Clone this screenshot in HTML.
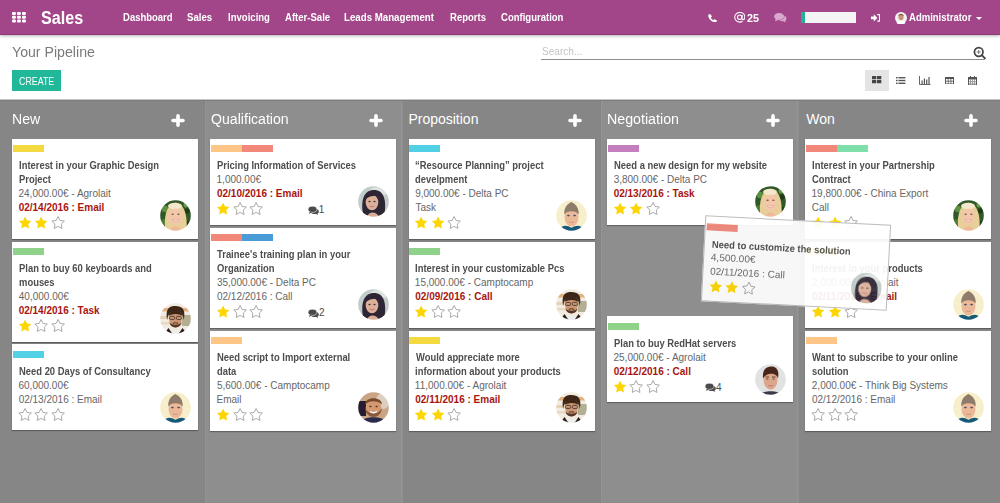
<!DOCTYPE html><html><head><meta charset="utf-8"><style>
*{box-sizing:border-box;margin:0;padding:0}
html,body{width:1000px;height:503px;overflow:hidden;background:#fff;font-family:"Liberation Sans",sans-serif}
.a{position:absolute}
.t{position:absolute;white-space:nowrap}
#nav{position:absolute;left:0;top:0;width:1000px;height:35px;background:#a24689;border-bottom:1px solid #8f3a78;box-shadow:0 1px 3px rgba(0,0,0,.3);z-index:5}
#kb{position:absolute;left:0;top:99px;width:1000px;height:404px;background:#868686;overflow:hidden}
.card{position:absolute;width:186px;background:#fff;box-shadow:0 1px 1px rgba(0,0,0,.3)}
.tag{position:absolute;top:6.5px;width:31px;height:7px}
.drag{transform:rotate(2.95deg);opacity:.93;border:1px solid #b8b8b8;box-shadow:none}
</style></head><body>
<svg width="0" height="0" style="position:absolute"><defs><filter id="soft" x="-5%" y="-5%" width="110%" height="110%"><feGaussianBlur stdDeviation="0.45"/></filter></defs></svg>
<div id="nav">
<svg class="a" style="left:12px;top:11.9px" width="14" height="11"><rect x="0" y="0.0" width="3.9" height="3" rx="1" fill="#fff"/><rect x="5" y="0.0" width="3.9" height="3" rx="1" fill="#fff"/><rect x="10" y="0.0" width="3.9" height="3" rx="1" fill="#fff"/><rect x="0" y="3.75" width="3.9" height="3" rx="1" fill="#fff"/><rect x="5" y="3.75" width="3.9" height="3" rx="1" fill="#fff"/><rect x="10" y="3.75" width="3.9" height="3" rx="1" fill="#fff"/><rect x="0" y="7.5" width="3.9" height="3" rx="1" fill="#fff"/><rect x="5" y="7.5" width="3.9" height="3" rx="1" fill="#fff"/><rect x="10" y="7.5" width="3.9" height="3" rx="1" fill="#fff"/></svg>
<div class="t" style="left:41.35px;top:6.96px;font-size:18px;line-height:23.4px;color:#fff;font-weight:bold;transform:scaleX(0.8976);transform-origin:0.45px 0;">Sales</div>
<div class="t" style="left:122.84px;top:10.54px;font-size:10.1px;line-height:13.13px;color:#fff;font-weight:bold;transform:scaleX(0.9395);transform-origin:0.66px 0;">Dashboard</div>
<div class="t" style="left:187.35px;top:10.54px;font-size:10.1px;line-height:13.13px;color:#fff;font-weight:bold;transform:scaleX(0.9552);transform-origin:0.25px 0;">Sales</div>
<div class="t" style="left:227.64px;top:10.54px;font-size:10.1px;line-height:13.13px;color:#fff;font-weight:bold;transform:scaleX(0.9459);transform-origin:0.66px 0;">Invoicing</div>
<div class="t" style="left:284.65px;top:10.54px;font-size:10.1px;line-height:13.13px;color:#fff;font-weight:bold;transform:scaleX(0.9456);transform-origin:0.25px 0;">After-Sale</div>
<div class="t" style="left:343.94px;top:10.54px;font-size:10.1px;line-height:13.13px;color:#fff;font-weight:bold;transform:scaleX(0.9600);transform-origin:0.66px 0;">Leads Management</div>
<div class="t" style="left:449.54px;top:10.54px;font-size:10.1px;line-height:13.13px;color:#fff;font-weight:bold;transform:scaleX(0.9430);transform-origin:0.66px 0;">Reports</div>
<div class="t" style="left:500.60px;top:10.54px;font-size:10.1px;line-height:13.13px;color:#fff;font-weight:bold;transform:scaleX(0.9433);transform-origin:0.40px 0;">Configuration</div>
<svg class="a" style="left:707.8px;top:13.6px" width="9" height="8.5" viewBox="0 0 9 8.5"><path d="M1.8 0.2 C2.4 0.1 2.7 0.3 3 0.8 L3.7 2.2 C3.9 2.6 3.7 3 3.3 3.3 L2.8 3.6 C3.4 4.9 4.2 5.7 5.4 6.2 L5.8 5.7 C6.1 5.3 6.5 5.2 6.9 5.4 L8.3 6.1 C8.8 6.4 8.9 6.8 8.8 7.3 L8.5 8 C8.2 8.4 7.6 8.5 6.9 8.4 C3.6 7.8 0.9 5.1 0.2 1.9 C0.1 1.2 0.4 0.5 1 0.3Z" fill="#fff"/></svg>
<svg class="a" style="left:733.9px;top:12.1px" width="11.5" height="10.5" viewBox="0 0 11.5 10.5"><path d="M8.6 9.3 C7.7 9.9 6.8 10.1 5.8 10.1 C3 10.1 0.7 7.9 0.7 5.2 C0.7 2.5 3 0.4 5.8 0.4 C8.6 0.4 10.8 2.3 10.8 5 C10.8 6.6 10 7.6 9 7.6 C8.2 7.6 7.8 7 7.9 6.2 L8.3 3" fill="none" stroke="#fff" stroke-width="1.1"/><circle cx="5.7" cy="5.2" r="2.2" fill="none" stroke="#fff" stroke-width="1.1"/></svg>
<div class="t" style="left:746.98px;top:10.54px;font-size:10.8px;line-height:14.04px;color:#fff;font-weight:bold;transform:scaleX(1.0005);transform-origin:0.32px 0;">25</div>
<svg class="a" style="left:773.6px;top:12.6px" width="13" height="9.6" viewBox="0 0 13 9.6"><ellipse cx="5.1" cy="3.6" rx="5" ry="3.5" fill="#d8a8ce"/><path d="M1.8 5.8 L1 8.2 L4.6 6.9Z" fill="#d8a8ce"/><path d="M10.6 2.6 C12.8 3.6 13 6.6 11.2 7.6 L12 9.5 L9.2 8.2 C7.5 8.5 6.2 8 5.4 7.3 C8.6 7.2 10.8 5.4 10.6 2.6Z" fill="#d8a8ce"/></svg>
<div class="a" style="left:801px;top:12.3px;width:54.5px;height:10.3px;background:#f4f4f4"></div>
<div class="a" style="left:801px;top:12.3px;width:3.5px;height:10.3px;background:#1fb394"></div>
<svg class="a" style="left:870.8px;top:13.8px" width="9.5" height="7.8" viewBox="0 0 9.5 7.8"><path d="M0 2.5 H2.8 V0.2 L6.4 3.9 L2.8 7.6 V5.3 H0Z" fill="#fff"/><path d="M6.2 0 H8.3 C8.9 0 9.3 0.4 9.3 1 V6.8 C9.3 7.4 8.9 7.8 8.3 7.8 H6.2 V6.5 H8 V1.3 H6.2Z" fill="#fff"/></svg>
<svg class="a" style="left:894.7px;top:12px" width="12" height="12" viewBox="0 0 12 12"><circle cx="6" cy="6" r="6" fill="#f2f2f2"/><ellipse cx="6" cy="5" rx="2.6" ry="3.2" fill="#c99479"/><path d="M3.3 4 C3.3 1.5 8.7 1.5 8.7 4 C7.5 2.8 4.5 2.8 3.3 4Z" fill="#5a4030"/><path d="M1.5 11 C3 8.5 9 8.5 10.5 11 L9 12 H3Z" fill="#fff"/></svg>
<div class="t" style="left:909.05px;top:11.04px;font-size:10.1px;line-height:13.13px;color:#fff;font-weight:bold;transform:scaleX(0.9422);transform-origin:0.25px 0;">Administrator</div>
<svg class="a" style="left:975.5px;top:17.3px" width="6" height="3"><path d="M0 0 H6 L3 3Z" fill="#fff"/></svg>
</div>
<div class="t" style="left:11.82px;top:43.45px;font-size:14px;line-height:18.2px;color:#7a7a7a;transform:scaleX(1.0107);transform-origin:0.28px 0;">Your Pipeline</div>
<div class="a" style="left:12px;top:70px;width:49.2px;height:21.3px;background:#21b799"></div>
<div class="t" style="left:19.26px;top:74.04px;font-size:10.8px;line-height:14.04px;color:#fff;transform:scaleX(0.8164);transform-origin:0.54px 0;">CREATE</div>
<div class="t" style="left:541.50px;top:43.54px;font-size:11px;line-height:14.3px;color:#c4c4c4;transform:scaleX(0.9161);transform-origin:0.49px 0;">Search...</div>
<div class="a" style="left:541px;top:59px;width:444px;height:1px;background:#8c8c8c"></div>
<svg class="a" style="left:972.5px;top:45.5px" width="13" height="13" viewBox="0 0 13 13"><circle cx="5.7" cy="6" r="4.3" fill="none" stroke="#444" stroke-width="1.7"/><path d="M8.8 9.2 L12 12.4" stroke="#444" stroke-width="1.8" stroke-linecap="round"/><path d="M3.7 6 H7.7 M5.7 4 V8" stroke="#777" stroke-width="1"/></svg>
<div class="a" style="left:865px;top:70px;width:24px;height:21px;background:#e4e4e4"></div>
<svg class="a" style="left:872px;top:76.3px" width="10" height="8" viewBox="0 0 10 8"><rect x="0" y="0" width="4.3" height="3.3" rx=".5" fill="#444"/><rect x="5" y="0" width="4.3" height="3.3" rx=".5" fill="#444"/><rect x="0" y="4" width="4.3" height="3.3" rx=".5" fill="#444"/><rect x="5" y="4" width="4.3" height="3.3" rx=".5" fill="#444"/></svg>
<svg class="a" style="left:895.6px;top:76.9px" width="10" height="7" viewBox="0 0 10 7"><rect x="0" y="0" width="1.6" height="1.4" fill="#555"/><rect x="2.4" y="0" width="7" height="1.4" fill="#555"/><rect x="0" y="2.8" width="1.6" height="1.4" fill="#555"/><rect x="2.4" y="2.8" width="7" height="1.4" fill="#555"/><rect x="0" y="5.6" width="1.6" height="1.4" fill="#555"/><rect x="2.4" y="5.6" width="7" height="1.4" fill="#555"/></svg>
<svg class="a" style="left:919px;top:76.3px" width="12" height="9" viewBox="0 0 12 9"><path d="M0.5 0 V8.5 H11.5" stroke="#666" stroke-width="1" fill="none"/><rect x="2.5" y="4.5" width="1.2" height="3.5" fill="#555"/><rect x="4.8" y="2.5" width="1.2" height="5.5" fill="#555"/><rect x="7.1" y="3.5" width="1.2" height="4.5" fill="#555"/><rect x="9.4" y="1" width="1.2" height="7" fill="#555"/></svg>
<svg class="a" style="left:945px;top:76.6px" width="9" height="7.5" viewBox="0 0 9 7.5"><rect x="0.5" y="0.5" width="8" height="6.5" stroke="#555" stroke-width="1" fill="none"/><rect x="0.5" y="0.5" width="8" height="1.5" fill="#555"/><path d="M0.5 4.2 H8.5 M3.2 2 V7 M5.9 2 V7" stroke="#555" stroke-width=".8"/></svg>
<svg class="a" style="left:968px;top:75.8px" width="9" height="9.5" viewBox="0 0 9 9.5"><rect x="0.5" y="1.5" width="8" height="7.5" stroke="#555" stroke-width="1" fill="none"/><rect x="0.5" y="1.5" width="8" height="2" fill="#555"/><rect x="2" y="0" width="1" height="2" fill="#555"/><rect x="6" y="0" width="1" height="2" fill="#555"/><path d="M0.5 5.5 H8.5 M0.5 7.3 H8.5 M2.5 3.5 V9 M4.5 3.5 V9 M6.5 3.5 V9" stroke="#777" stroke-width=".6"/></svg>
<div id="kb">
<div class="a" style="left:0;top:0;width:1000px;height:1px;background:#c4c4c4"></div>
<div class="a" style="left:0;top:1px;width:1000px;height:1px;background:#7e7e7e"></div>
<div class="a" style="left:0px;width:204.5px;top:2px;height:402px;background:#868686"></div>
<div class="t" style="left:11.78px;top:11.15px;font-size:14px;line-height:18.2px;color:#fff;transform:scaleX(1.0056);transform-origin:1.12px 0;">New</div>
<svg class="a" style="left:171px;top:14.5px" width="14" height="13" viewBox="0 0 14 13"><path d="M7 1.8 V11.2 M2 6.5 H12" stroke="#fff" stroke-width="3.6" stroke-linecap="round"/></svg>
<div class="card" style="left:12px;top:39.5px;height:100px">
<div class="tag" style="left:0.8px;background:#f4d940"></div>
<div class="t" style="left:6.55px;top:20.54px;font-size:10px;line-height:13.0px;color:#4d4d4d;font-weight:bold;transform:scaleX(0.9400);transform-origin:0.65px 0;">Interest in your Graphic Design</div>
<div class="t" style="left:6.55px;top:34.33px;font-size:10px;line-height:13.0px;color:#4d4d4d;font-weight:bold;transform:scaleX(0.9400);transform-origin:0.65px 0;">Project</div>
<div class="t" style="left:6.50px;top:48.13px;font-size:10px;line-height:13.0px;color:#666;">24,000.00€ - Agrolait</div>
<div class="t" style="left:6.65px;top:62.03px;font-size:10px;line-height:13.0px;color:#a8150f;font-weight:bold;">02/14/2016 : Email</div>
<svg class="a" style="left:5.70px;top:77.10px" width="14.2" height="14.2"><path d="M7.10,0.50 L9.04,4.43 L13.38,5.06 L10.24,8.12 L10.98,12.44 L7.10,10.40 L3.22,12.44 L3.96,8.12 L0.82,5.06 L5.16,4.43Z" fill="#fdd500"/></svg>
<svg class="a" style="left:22.30px;top:77.10px" width="14.2" height="14.2"><path d="M7.10,0.50 L9.04,4.43 L13.38,5.06 L10.24,8.12 L10.98,12.44 L7.10,10.40 L3.22,12.44 L3.96,8.12 L0.82,5.06 L5.16,4.43Z" fill="#fdd500"/></svg>
<svg class="a" style="left:38.90px;top:77.10px" width="14.2" height="14.2"><path d="M7.10,0.50 L9.04,4.43 L13.38,5.06 L10.24,8.12 L10.98,12.44 L7.10,10.40 L3.22,12.44 L3.96,8.12 L0.82,5.06 L5.16,4.43Z" fill="none" stroke="#a0a0a0" stroke-width="0.9" stroke-linejoin="round"/></svg>
<svg class="a" style="left:147.5px;top:61.5px" width="31" height="31" viewBox="0 0 31 31"><defs><clipPath id="cp1"><circle cx="15.5" cy="15.5" r="15.3"/></clipPath></defs><g clip-path="url(#cp1)"><g filter="url(#soft)"><rect width="31" height="31" fill="#33592a"/>
   <circle cx="5" cy="9" r="3.2" fill="#5f9040"/><circle cx="27" cy="11" r="2.6" fill="#1f3a16"/>
   <circle cx="4" cy="22" r="3" fill="#4a7a30"/><circle cx="27.5" cy="24" r="3" fill="#223f18"/><circle cx="26" cy="5" r="2.5" fill="#6a9a48"/>
   <path d="M5.5 31 C3.5 18 6 4.5 15.5 2.8 C25 4 27.5 16 26.5 31 Z" fill="#e8cf9a"/>
   <ellipse cx="15" cy="6" rx="7" ry="3.2" fill="#f4e8cc"/>
   <path d="M10 31 C11 25 20 25 21 31Z" fill="#efb898"/>
   <ellipse cx="15.5" cy="16.8" rx="6.2" ry="8.3" fill="#f3c7a9"/>
   <ellipse cx="12.6" cy="14.3" rx="1.2" ry="0.75" fill="#7a5848"/><ellipse cx="18.4" cy="14.3" rx="1.2" ry="0.75" fill="#7a5848"/>
   <path d="M11.8 19.6 Q15.5 23.6 19.2 19.6 Q15.5 20.8 11.8 19.6Z" fill="#fff" stroke="#d88a80" stroke-width=".5"/></g></g></svg>
</div>
<div class="card" style="left:12px;top:142.5px;height:100px">
<div class="tag" style="left:0.8px;background:#8fd38a"></div>
<div class="t" style="left:6.55px;top:20.54px;font-size:10px;line-height:13.0px;color:#4d4d4d;font-weight:bold;transform:scaleX(0.9400);transform-origin:0.65px 0;">Plan to buy 60 keyboards and</div>
<div class="t" style="left:6.55px;top:34.33px;font-size:10px;line-height:13.0px;color:#4d4d4d;font-weight:bold;transform:scaleX(0.9400);transform-origin:0.65px 0;">mouses</div>
<div class="t" style="left:6.80px;top:48.13px;font-size:10px;line-height:13.0px;color:#666;">40,000.00€</div>
<div class="t" style="left:6.65px;top:62.03px;font-size:10px;line-height:13.0px;color:#a8150f;font-weight:bold;">02/14/2016 : Task</div>
<svg class="a" style="left:5.70px;top:77.10px" width="14.2" height="14.2"><path d="M7.10,0.50 L9.04,4.43 L13.38,5.06 L10.24,8.12 L10.98,12.44 L7.10,10.40 L3.22,12.44 L3.96,8.12 L0.82,5.06 L5.16,4.43Z" fill="#fdd500"/></svg>
<svg class="a" style="left:22.30px;top:77.10px" width="14.2" height="14.2"><path d="M7.10,0.50 L9.04,4.43 L13.38,5.06 L10.24,8.12 L10.98,12.44 L7.10,10.40 L3.22,12.44 L3.96,8.12 L0.82,5.06 L5.16,4.43Z" fill="none" stroke="#a0a0a0" stroke-width="0.9" stroke-linejoin="round"/></svg>
<svg class="a" style="left:38.90px;top:77.10px" width="14.2" height="14.2"><path d="M7.10,0.50 L9.04,4.43 L13.38,5.06 L10.24,8.12 L10.98,12.44 L7.10,10.40 L3.22,12.44 L3.96,8.12 L0.82,5.06 L5.16,4.43Z" fill="none" stroke="#a0a0a0" stroke-width="0.9" stroke-linejoin="round"/></svg>
<svg class="a" style="left:147.5px;top:61.5px" width="31" height="31" viewBox="0 0 31 31"><defs><clipPath id="cp2"><circle cx="15.5" cy="15.5" r="15.3"/></clipPath></defs><g clip-path="url(#cp2)"><g filter="url(#soft)"><rect width="31" height="31" fill="#f2ebe2"/>
   <rect x="0" y="5" width="31" height="3.5" fill="#e0b080"/><rect x="0" y="13" width="31" height="3" fill="#e6d2b6"/><rect x="0" y="19" width="31" height="2.5" fill="#e8d8c0"/>
   <rect x="22" y="12" width="9" height="11" fill="#b4ae92"/>
   <path d="M7.2 17 C5 5 10 3 15.5 3 C22 3 26 6 23.8 17 C23 10 20 8.5 15.5 8.5 C11 8.5 8 10 7.2 17Z" fill="#3e2618"/>
   <ellipse cx="15.5" cy="16.3" rx="6.3" ry="8.4" fill="#cc9674"/>
   <path d="M8.6 13 C9 6 22 6 22.4 13 C19 10.2 12 10.2 8.6 13Z" fill="#3e2618"/>
   <rect x="9.6" y="13.4" width="5" height="3" rx="1" fill="none" stroke="#3a2a22" stroke-width=".8"/><rect x="16.4" y="13.4" width="5" height="3" rx="1" fill="none" stroke="#3a2a22" stroke-width=".8"/>
   <path d="M9.6 19.5 C10.5 26 20.5 26 21.4 19.5 C19.5 22.5 11.5 22.5 9.6 19.5Z" fill="#56382a"/>
   <path d="M12.8 20.3 Q15.5 19.2 18.2 20.3" stroke="#4a2e20" stroke-width="1" fill="none"/>
   <path d="M4 31 C5 25.5 26 25.5 27 31Z" fill="#ececec"/>
   <path d="M8.5 25 L12.5 31 L4 31Z M22.5 25 L18.5 31 L27 31Z" fill="#2e1e18"/></g></g></svg>
</div>
<div class="card" style="left:12px;top:245.3px;height:86px">
<div class="tag" style="left:0.8px;background:#52d0e6"></div>
<div class="t" style="left:6.55px;top:20.54px;font-size:10px;line-height:13.0px;color:#4d4d4d;font-weight:bold;transform:scaleX(0.9400);transform-origin:0.65px 0;">Need 20 Days of Consultancy</div>
<div class="t" style="left:6.50px;top:34.33px;font-size:10px;line-height:13.0px;color:#666;">60,000.00€</div>
<div class="t" style="left:6.65px;top:48.23px;font-size:10px;line-height:13.0px;color:#666;">02/13/2016 : Email</div>
<svg class="a" style="left:5.70px;top:63.30px" width="14.2" height="14.2"><path d="M7.10,0.50 L9.04,4.43 L13.38,5.06 L10.24,8.12 L10.98,12.44 L7.10,10.40 L3.22,12.44 L3.96,8.12 L0.82,5.06 L5.16,4.43Z" fill="none" stroke="#a0a0a0" stroke-width="0.9" stroke-linejoin="round"/></svg>
<svg class="a" style="left:22.30px;top:63.30px" width="14.2" height="14.2"><path d="M7.10,0.50 L9.04,4.43 L13.38,5.06 L10.24,8.12 L10.98,12.44 L7.10,10.40 L3.22,12.44 L3.96,8.12 L0.82,5.06 L5.16,4.43Z" fill="none" stroke="#a0a0a0" stroke-width="0.9" stroke-linejoin="round"/></svg>
<svg class="a" style="left:38.90px;top:63.30px" width="14.2" height="14.2"><path d="M7.10,0.50 L9.04,4.43 L13.38,5.06 L10.24,8.12 L10.98,12.44 L7.10,10.40 L3.22,12.44 L3.96,8.12 L0.82,5.06 L5.16,4.43Z" fill="none" stroke="#a0a0a0" stroke-width="0.9" stroke-linejoin="round"/></svg>
<svg class="a" style="left:147.5px;top:47.5px" width="31" height="31" viewBox="0 0 31 31"><defs><clipPath id="cp3"><circle cx="15.5" cy="15.5" r="15.3"/></clipPath></defs><g clip-path="url(#cp3)"><g filter="url(#soft)"><rect width="31" height="31" fill="#f7eecb"/>
   <ellipse cx="15.5" cy="17" rx="7" ry="9.6" fill="#ebb898"/>
   <path d="M8.3 14.5 C7.8 8 11 4 15.5 2 C20 4.5 23.2 8 22.7 14.5 C20.5 10 10.5 10 8.3 14.5Z" fill="#8e7b6a"/>
   <ellipse cx="12.4" cy="15.6" rx="1.4" ry=".8" fill="#3e4e6e"/><ellipse cx="18.6" cy="15.6" rx="1.4" ry=".8" fill="#3e4e6e"/>
   <path d="M13 22 Q15.5 23 18 22" stroke="#c88880" stroke-width=".8" fill="none"/>
   <path d="M3.5 29 C7 24.5 11 25 15.5 27.8 C20 25 24 24.5 27.5 29 L27.5 31 L3.5 31Z" fill="#175a78"/></g></g></svg>
</div>
<div class="a" style="left:204.5px;width:198.6px;top:2px;height:402px;background:#8e8e8e"></div>
<div class="a" style="left:203.6px;top:2px;width:1px;height:402px;background:#848484"></div>
<div class="a" style="left:205.1px;top:2px;width:1px;height:402px;background:#949494"></div>
<div class="a" style="left:401.3px;top:2px;width:1px;height:402px;background:#949494"></div>
<div class="t" style="left:210.57px;top:11.15px;font-size:14px;line-height:18.2px;color:#fff;transform:scaleX(1.0089);transform-origin:0.63px 0;">Qualification</div>
<svg class="a" style="left:369.3px;top:14.5px" width="14" height="13" viewBox="0 0 14 13"><path d="M7 1.8 V11.2 M2 6.5 H12" stroke="#fff" stroke-width="3.6" stroke-linecap="round"/></svg>
<div class="card" style="left:210.3px;top:39.5px;height:86px">
<div class="tag" style="left:0.8px;background:#fdc686"></div>
<div class="tag" style="left:31.8px;background:#f2887a"></div>
<div class="t" style="left:6.55px;top:20.54px;font-size:10px;line-height:13.0px;color:#4d4d4d;font-weight:bold;transform:scaleX(0.9400);transform-origin:0.65px 0;">Pricing Information of Services</div>
<div class="t" style="left:6.25px;top:34.33px;font-size:10px;line-height:13.0px;color:#666;">1,000.00€</div>
<div class="t" style="left:6.65px;top:48.23px;font-size:10px;line-height:13.0px;color:#a8150f;font-weight:bold;">02/10/2016 : Email</div>
<svg class="a" style="left:5.70px;top:63.30px" width="14.2" height="14.2"><path d="M7.10,0.50 L9.04,4.43 L13.38,5.06 L10.24,8.12 L10.98,12.44 L7.10,10.40 L3.22,12.44 L3.96,8.12 L0.82,5.06 L5.16,4.43Z" fill="#fdd500"/></svg>
<svg class="a" style="left:22.30px;top:63.30px" width="14.2" height="14.2"><path d="M7.10,0.50 L9.04,4.43 L13.38,5.06 L10.24,8.12 L10.98,12.44 L7.10,10.40 L3.22,12.44 L3.96,8.12 L0.82,5.06 L5.16,4.43Z" fill="none" stroke="#a0a0a0" stroke-width="0.9" stroke-linejoin="round"/></svg>
<svg class="a" style="left:38.90px;top:63.30px" width="14.2" height="14.2"><path d="M7.10,0.50 L9.04,4.43 L13.38,5.06 L10.24,8.12 L10.98,12.44 L7.10,10.40 L3.22,12.44 L3.96,8.12 L0.82,5.06 L5.16,4.43Z" fill="none" stroke="#a0a0a0" stroke-width="0.9" stroke-linejoin="round"/></svg>
<svg class="a" style="left:97.7px;top:67.0px" width="11" height="9" viewBox="0 0 11 9"><path d="M6.5 2.6 C9 2.6 10.8 3.9 10.8 5.4 C10.8 6.3 10.3 7 9.5 7.5 L10.2 9 L8.2 7.9 C7.7 8 7.1 8.1 6.5 8.1 C4.5 8.1 3 7.2 2.5 6Z" fill="#4a4a4a"/><ellipse cx="4.5" cy="3.3" rx="4.4" ry="3.1" fill="#4a4a4a" stroke="#fff" stroke-width=".6"/><path d="M1.8 5.6 L1 7.9 L3.8 6.3Z" fill="#4a4a4a"/></svg><div class="t" style="left:108.35px;top:64.63px;font-size:10px;line-height:13.0px;color:#4a4a4a;">1</div>
<svg class="a" style="left:147.5px;top:47.5px" width="31" height="31" viewBox="0 0 31 31"><defs><clipPath id="cp4"><circle cx="15.5" cy="15.5" r="15.3"/></clipPath></defs><g clip-path="url(#cp4)"><g filter="url(#soft)"><rect width="31" height="31" fill="#c2ccc8"/>
   <ellipse cx="20" cy="6" rx="9" ry="5" fill="#dde4e0"/>
   <path d="M5 28 C2.5 14 6 4 16 4 C26 4 28.5 14 26.5 28 C22 31.5 9 31.5 5 28Z" fill="#2f2535"/>
   <path d="M9 31 C10 25 19 25 21 31Z" fill="#d8ae98"/>
   <ellipse cx="14" cy="16.5" rx="6.3" ry="7.8" fill="#ddb199"/>
   <path d="M7.5 13 C9 7 17 6 21 10 C17 9 11 10 7.5 13Z" fill="#2f2535"/>
   <ellipse cx="11.5" cy="15.5" rx="1.1" ry=".7" fill="#3a2a30"/><ellipse cx="16.5" cy="15.5" rx="1.1" ry=".7" fill="#3a2a30"/>
   <path d="M11.5 20 Q14 21.8 16.5 20" stroke="#c0707a" stroke-width=".9" fill="none"/></g></g></svg>
</div>
<div class="card" style="left:210.3px;top:128.8px;height:100px">
<div class="tag" style="left:0.8px;background:#f2887a"></div>
<div class="tag" style="left:31.8px;background:#4a9cd6"></div>
<div class="t" style="left:7.10px;top:20.54px;font-size:10px;line-height:13.0px;color:#4d4d4d;font-weight:bold;transform:scaleX(0.9400);transform-origin:0.10px 0;">Trainee's training plan in your</div>
<div class="t" style="left:6.80px;top:34.33px;font-size:10px;line-height:13.0px;color:#4d4d4d;font-weight:bold;transform:scaleX(0.9400);transform-origin:0.40px 0;">Organization</div>
<div class="t" style="left:6.65px;top:48.13px;font-size:10px;line-height:13.0px;color:#666;">35,000.00€ - Delta PC</div>
<div class="t" style="left:6.65px;top:62.03px;font-size:10px;line-height:13.0px;color:#666;">02/12/2016 : Call</div>
<svg class="a" style="left:5.70px;top:77.10px" width="14.2" height="14.2"><path d="M7.10,0.50 L9.04,4.43 L13.38,5.06 L10.24,8.12 L10.98,12.44 L7.10,10.40 L3.22,12.44 L3.96,8.12 L0.82,5.06 L5.16,4.43Z" fill="#fdd500"/></svg>
<svg class="a" style="left:22.30px;top:77.10px" width="14.2" height="14.2"><path d="M7.10,0.50 L9.04,4.43 L13.38,5.06 L10.24,8.12 L10.98,12.44 L7.10,10.40 L3.22,12.44 L3.96,8.12 L0.82,5.06 L5.16,4.43Z" fill="none" stroke="#a0a0a0" stroke-width="0.9" stroke-linejoin="round"/></svg>
<svg class="a" style="left:38.90px;top:77.10px" width="14.2" height="14.2"><path d="M7.10,0.50 L9.04,4.43 L13.38,5.06 L10.24,8.12 L10.98,12.44 L7.10,10.40 L3.22,12.44 L3.96,8.12 L0.82,5.06 L5.16,4.43Z" fill="none" stroke="#a0a0a0" stroke-width="0.9" stroke-linejoin="round"/></svg>
<svg class="a" style="left:97.7px;top:80.8px" width="11" height="9" viewBox="0 0 11 9"><path d="M6.5 2.6 C9 2.6 10.8 3.9 10.8 5.4 C10.8 6.3 10.3 7 9.5 7.5 L10.2 9 L8.2 7.9 C7.7 8 7.1 8.1 6.5 8.1 C4.5 8.1 3 7.2 2.5 6Z" fill="#4a4a4a"/><ellipse cx="4.5" cy="3.3" rx="4.4" ry="3.1" fill="#4a4a4a" stroke="#fff" stroke-width=".6"/><path d="M1.8 5.6 L1 7.9 L3.8 6.3Z" fill="#4a4a4a"/></svg><div class="t" style="left:108.60px;top:78.43px;font-size:10px;line-height:13.0px;color:#4a4a4a;">2</div>
<svg class="a" style="left:147.5px;top:61.5px" width="31" height="31" viewBox="0 0 31 31"><defs><clipPath id="cp5"><circle cx="15.5" cy="15.5" r="15.3"/></clipPath></defs><g clip-path="url(#cp5)"><g filter="url(#soft)"><rect width="31" height="31" fill="#c2ccc8"/>
   <ellipse cx="20" cy="6" rx="9" ry="5" fill="#dde4e0"/>
   <path d="M5 28 C2.5 14 6 4 16 4 C26 4 28.5 14 26.5 28 C22 31.5 9 31.5 5 28Z" fill="#2f2535"/>
   <path d="M9 31 C10 25 19 25 21 31Z" fill="#d8ae98"/>
   <ellipse cx="14" cy="16.5" rx="6.3" ry="7.8" fill="#ddb199"/>
   <path d="M7.5 13 C9 7 17 6 21 10 C17 9 11 10 7.5 13Z" fill="#2f2535"/>
   <ellipse cx="11.5" cy="15.5" rx="1.1" ry=".7" fill="#3a2a30"/><ellipse cx="16.5" cy="15.5" rx="1.1" ry=".7" fill="#3a2a30"/>
   <path d="M11.5 20 Q14 21.8 16.5 20" stroke="#c0707a" stroke-width=".9" fill="none"/></g></g></svg>
</div>
<div class="card" style="left:210.3px;top:231.5px;height:100px">
<div class="tag" style="left:0.8px;background:#fdc686"></div>
<div class="t" style="left:6.55px;top:20.54px;font-size:10px;line-height:13.0px;color:#4d4d4d;font-weight:bold;transform:scaleX(0.9400);transform-origin:0.65px 0;">Need script to Import external</div>
<div class="t" style="left:6.80px;top:34.33px;font-size:10px;line-height:13.0px;color:#4d4d4d;font-weight:bold;transform:scaleX(0.9400);transform-origin:0.40px 0;">data</div>
<div class="t" style="left:6.60px;top:48.13px;font-size:10px;line-height:13.0px;color:#666;">5,600.00€ - Camptocamp</div>
<div class="t" style="left:6.20px;top:62.03px;font-size:10px;line-height:13.0px;color:#666;">Email</div>
<svg class="a" style="left:5.70px;top:77.10px" width="14.2" height="14.2"><path d="M7.10,0.50 L9.04,4.43 L13.38,5.06 L10.24,8.12 L10.98,12.44 L7.10,10.40 L3.22,12.44 L3.96,8.12 L0.82,5.06 L5.16,4.43Z" fill="#fdd500"/></svg>
<svg class="a" style="left:22.30px;top:77.10px" width="14.2" height="14.2"><path d="M7.10,0.50 L9.04,4.43 L13.38,5.06 L10.24,8.12 L10.98,12.44 L7.10,10.40 L3.22,12.44 L3.96,8.12 L0.82,5.06 L5.16,4.43Z" fill="none" stroke="#a0a0a0" stroke-width="0.9" stroke-linejoin="round"/></svg>
<svg class="a" style="left:38.90px;top:77.10px" width="14.2" height="14.2"><path d="M7.10,0.50 L9.04,4.43 L13.38,5.06 L10.24,8.12 L10.98,12.44 L7.10,10.40 L3.22,12.44 L3.96,8.12 L0.82,5.06 L5.16,4.43Z" fill="none" stroke="#a0a0a0" stroke-width="0.9" stroke-linejoin="round"/></svg>
<svg class="a" style="left:147.5px;top:61.5px" width="31" height="31" viewBox="0 0 31 31"><defs><clipPath id="cp6"><circle cx="15.5" cy="15.5" r="15.3"/></clipPath></defs><g clip-path="url(#cp6)"><g filter="url(#soft)"><rect width="31" height="31" fill="#c9a585"/>
   <ellipse cx="25" cy="9" rx="7" ry="8" fill="#dccfbf"/>
   <rect x="0" y="9" width="8" height="15" fill="#261e30"/>
   <ellipse cx="15.5" cy="15.5" rx="7.8" ry="9" fill="#d49872"/>
   <path d="M7 12.5 C7 4 24 4 24 12.5 C20 8 11 8 7 12.5Z" fill="#7a4a2a"/>
   <path d="M7 16 C8 28 23 28 24 16 C21 23 10 23 7 16Z" fill="#8a5a3a"/>
   <ellipse cx="12.4" cy="14.5" rx="1.2" ry=".7" fill="#4a3020"/><ellipse cx="18.6" cy="14.5" rx="1.2" ry=".7" fill="#4a3020"/>
   <path d="M12 19.5 Q15.5 22 19 19.5" stroke="#fff" stroke-width="1.3" fill="none"/>
   <path d="M3 29 C8 24 23 24 28 29 L28 31 L3 31Z" fill="#2a2a48"/></g></g></svg>
</div>
<div class="a" style="left:403.1px;width:197.6px;top:2px;height:402px;background:#868686"></div>
<div class="t" style="left:408.38px;top:11.15px;font-size:14px;line-height:18.2px;color:#fff;">Proposition</div>
<svg class="a" style="left:567.6px;top:14.5px" width="14" height="13" viewBox="0 0 14 13"><path d="M7 1.8 V11.2 M2 6.5 H12" stroke="#fff" stroke-width="3.6" stroke-linecap="round"/></svg>
<div class="card" style="left:408.6px;top:39.5px;height:100px">
<div class="tag" style="left:0.8px;background:#52d0e6"></div>
<div class="t" style="left:6.50px;top:20.54px;font-size:10px;line-height:13.0px;color:#4d4d4d;font-weight:bold;transform:scaleX(0.9400);transform-origin:0.70px 0;">“Resource Planning” project</div>
<div class="t" style="left:6.80px;top:34.33px;font-size:10px;line-height:13.0px;color:#4d4d4d;font-weight:bold;transform:scaleX(0.9400);transform-origin:0.40px 0;">develpment</div>
<div class="t" style="left:6.55px;top:48.13px;font-size:10px;line-height:13.0px;color:#666;">9,000.00€ - Delta PC</div>
<div class="t" style="left:6.80px;top:62.03px;font-size:10px;line-height:13.0px;color:#666;">Task</div>
<svg class="a" style="left:5.70px;top:77.10px" width="14.2" height="14.2"><path d="M7.10,0.50 L9.04,4.43 L13.38,5.06 L10.24,8.12 L10.98,12.44 L7.10,10.40 L3.22,12.44 L3.96,8.12 L0.82,5.06 L5.16,4.43Z" fill="#fdd500"/></svg>
<svg class="a" style="left:22.30px;top:77.10px" width="14.2" height="14.2"><path d="M7.10,0.50 L9.04,4.43 L13.38,5.06 L10.24,8.12 L10.98,12.44 L7.10,10.40 L3.22,12.44 L3.96,8.12 L0.82,5.06 L5.16,4.43Z" fill="#fdd500"/></svg>
<svg class="a" style="left:38.90px;top:77.10px" width="14.2" height="14.2"><path d="M7.10,0.50 L9.04,4.43 L13.38,5.06 L10.24,8.12 L10.98,12.44 L7.10,10.40 L3.22,12.44 L3.96,8.12 L0.82,5.06 L5.16,4.43Z" fill="none" stroke="#a0a0a0" stroke-width="0.9" stroke-linejoin="round"/></svg>
<svg class="a" style="left:147.5px;top:61.5px" width="31" height="31" viewBox="0 0 31 31"><defs><clipPath id="cp7"><circle cx="15.5" cy="15.5" r="15.3"/></clipPath></defs><g clip-path="url(#cp7)"><g filter="url(#soft)"><rect width="31" height="31" fill="#f7eecb"/>
   <ellipse cx="15.5" cy="17" rx="7" ry="9.6" fill="#ebb898"/>
   <path d="M8.3 14.5 C7.8 8 11 4 15.5 2 C20 4.5 23.2 8 22.7 14.5 C20.5 10 10.5 10 8.3 14.5Z" fill="#8e7b6a"/>
   <ellipse cx="12.4" cy="15.6" rx="1.4" ry=".8" fill="#3e4e6e"/><ellipse cx="18.6" cy="15.6" rx="1.4" ry=".8" fill="#3e4e6e"/>
   <path d="M13 22 Q15.5 23 18 22" stroke="#c88880" stroke-width=".8" fill="none"/>
   <path d="M3.5 29 C7 24.5 11 25 15.5 27.8 C20 25 24 24.5 27.5 29 L27.5 31 L3.5 31Z" fill="#175a78"/></g></g></svg>
</div>
<div class="card" style="left:408.6px;top:142.5px;height:86px">
<div class="tag" style="left:0.8px;background:#8fd38a"></div>
<div class="t" style="left:6.55px;top:20.54px;font-size:10px;line-height:13.0px;color:#4d4d4d;font-weight:bold;transform:scaleX(0.9400);transform-origin:0.65px 0;">Interest in your customizable Pcs</div>
<div class="t" style="left:6.25px;top:34.33px;font-size:10px;line-height:13.0px;color:#666;">15,000.00€ - Camptocamp</div>
<div class="t" style="left:6.65px;top:48.23px;font-size:10px;line-height:13.0px;color:#a8150f;font-weight:bold;">02/09/2016 : Call</div>
<svg class="a" style="left:5.70px;top:63.30px" width="14.2" height="14.2"><path d="M7.10,0.50 L9.04,4.43 L13.38,5.06 L10.24,8.12 L10.98,12.44 L7.10,10.40 L3.22,12.44 L3.96,8.12 L0.82,5.06 L5.16,4.43Z" fill="#fdd500"/></svg>
<svg class="a" style="left:22.30px;top:63.30px" width="14.2" height="14.2"><path d="M7.10,0.50 L9.04,4.43 L13.38,5.06 L10.24,8.12 L10.98,12.44 L7.10,10.40 L3.22,12.44 L3.96,8.12 L0.82,5.06 L5.16,4.43Z" fill="none" stroke="#a0a0a0" stroke-width="0.9" stroke-linejoin="round"/></svg>
<svg class="a" style="left:38.90px;top:63.30px" width="14.2" height="14.2"><path d="M7.10,0.50 L9.04,4.43 L13.38,5.06 L10.24,8.12 L10.98,12.44 L7.10,10.40 L3.22,12.44 L3.96,8.12 L0.82,5.06 L5.16,4.43Z" fill="none" stroke="#a0a0a0" stroke-width="0.9" stroke-linejoin="round"/></svg>
<svg class="a" style="left:147.5px;top:47.5px" width="31" height="31" viewBox="0 0 31 31"><defs><clipPath id="cp8"><circle cx="15.5" cy="15.5" r="15.3"/></clipPath></defs><g clip-path="url(#cp8)"><g filter="url(#soft)"><rect width="31" height="31" fill="#f2ebe2"/>
   <rect x="0" y="5" width="31" height="3.5" fill="#e0b080"/><rect x="0" y="13" width="31" height="3" fill="#e6d2b6"/><rect x="0" y="19" width="31" height="2.5" fill="#e8d8c0"/>
   <rect x="22" y="12" width="9" height="11" fill="#b4ae92"/>
   <path d="M7.2 17 C5 5 10 3 15.5 3 C22 3 26 6 23.8 17 C23 10 20 8.5 15.5 8.5 C11 8.5 8 10 7.2 17Z" fill="#3e2618"/>
   <ellipse cx="15.5" cy="16.3" rx="6.3" ry="8.4" fill="#cc9674"/>
   <path d="M8.6 13 C9 6 22 6 22.4 13 C19 10.2 12 10.2 8.6 13Z" fill="#3e2618"/>
   <rect x="9.6" y="13.4" width="5" height="3" rx="1" fill="none" stroke="#3a2a22" stroke-width=".8"/><rect x="16.4" y="13.4" width="5" height="3" rx="1" fill="none" stroke="#3a2a22" stroke-width=".8"/>
   <path d="M9.6 19.5 C10.5 26 20.5 26 21.4 19.5 C19.5 22.5 11.5 22.5 9.6 19.5Z" fill="#56382a"/>
   <path d="M12.8 20.3 Q15.5 19.2 18.2 20.3" stroke="#4a2e20" stroke-width="1" fill="none"/>
   <path d="M4 31 C5 25.5 26 25.5 27 31Z" fill="#ececec"/>
   <path d="M8.5 25 L12.5 31 L4 31Z M22.5 25 L18.5 31 L27 31Z" fill="#2e1e18"/></g></g></svg>
</div>
<div class="card" style="left:408.6px;top:231.5px;height:100px">
<div class="tag" style="left:0.8px;background:#f4d940"></div>
<div class="t" style="left:7.20px;top:20.54px;font-size:10px;line-height:13.0px;color:#4d4d4d;font-weight:bold;transform:scaleX(0.9400);transform-origin:0.00px 0;">Would appreciate more</div>
<div class="t" style="left:6.55px;top:34.33px;font-size:10px;line-height:13.0px;color:#4d4d4d;font-weight:bold;transform:scaleX(0.9400);transform-origin:0.65px 0;">information about your products</div>
<div class="t" style="left:6.25px;top:48.13px;font-size:10px;line-height:13.0px;color:#666;">11,000.00€ - Agrolait</div>
<div class="t" style="left:6.65px;top:62.03px;font-size:10px;line-height:13.0px;color:#a8150f;font-weight:bold;">02/11/2016 : Email</div>
<svg class="a" style="left:5.70px;top:77.10px" width="14.2" height="14.2"><path d="M7.10,0.50 L9.04,4.43 L13.38,5.06 L10.24,8.12 L10.98,12.44 L7.10,10.40 L3.22,12.44 L3.96,8.12 L0.82,5.06 L5.16,4.43Z" fill="#fdd500"/></svg>
<svg class="a" style="left:22.30px;top:77.10px" width="14.2" height="14.2"><path d="M7.10,0.50 L9.04,4.43 L13.38,5.06 L10.24,8.12 L10.98,12.44 L7.10,10.40 L3.22,12.44 L3.96,8.12 L0.82,5.06 L5.16,4.43Z" fill="#fdd500"/></svg>
<svg class="a" style="left:38.90px;top:77.10px" width="14.2" height="14.2"><path d="M7.10,0.50 L9.04,4.43 L13.38,5.06 L10.24,8.12 L10.98,12.44 L7.10,10.40 L3.22,12.44 L3.96,8.12 L0.82,5.06 L5.16,4.43Z" fill="none" stroke="#a0a0a0" stroke-width="0.9" stroke-linejoin="round"/></svg>
<svg class="a" style="left:147.5px;top:61.5px" width="31" height="31" viewBox="0 0 31 31"><defs><clipPath id="cp9"><circle cx="15.5" cy="15.5" r="15.3"/></clipPath></defs><g clip-path="url(#cp9)"><g filter="url(#soft)"><rect width="31" height="31" fill="#f2ebe2"/>
   <rect x="0" y="5" width="31" height="3.5" fill="#e0b080"/><rect x="0" y="13" width="31" height="3" fill="#e6d2b6"/><rect x="0" y="19" width="31" height="2.5" fill="#e8d8c0"/>
   <rect x="22" y="12" width="9" height="11" fill="#b4ae92"/>
   <path d="M7.2 17 C5 5 10 3 15.5 3 C22 3 26 6 23.8 17 C23 10 20 8.5 15.5 8.5 C11 8.5 8 10 7.2 17Z" fill="#3e2618"/>
   <ellipse cx="15.5" cy="16.3" rx="6.3" ry="8.4" fill="#cc9674"/>
   <path d="M8.6 13 C9 6 22 6 22.4 13 C19 10.2 12 10.2 8.6 13Z" fill="#3e2618"/>
   <rect x="9.6" y="13.4" width="5" height="3" rx="1" fill="none" stroke="#3a2a22" stroke-width=".8"/><rect x="16.4" y="13.4" width="5" height="3" rx="1" fill="none" stroke="#3a2a22" stroke-width=".8"/>
   <path d="M9.6 19.5 C10.5 26 20.5 26 21.4 19.5 C19.5 22.5 11.5 22.5 9.6 19.5Z" fill="#56382a"/>
   <path d="M12.8 20.3 Q15.5 19.2 18.2 20.3" stroke="#4a2e20" stroke-width="1" fill="none"/>
   <path d="M4 31 C5 25.5 26 25.5 27 31Z" fill="#ececec"/>
   <path d="M8.5 25 L12.5 31 L4 31Z M22.5 25 L18.5 31 L27 31Z" fill="#2e1e18"/></g></g></svg>
</div>
<div class="a" style="left:600.7px;width:198.3px;top:2px;height:402px;background:#8e8e8e"></div>
<div class="a" style="left:599.8px;top:2px;width:1px;height:402px;background:#848484"></div>
<div class="a" style="left:601.3px;top:2px;width:1px;height:402px;background:#949494"></div>
<div class="a" style="left:797.2px;top:2px;width:1px;height:402px;background:#949494"></div>
<div class="t" style="left:606.78px;top:11.15px;font-size:14px;line-height:18.2px;color:#fff;transform:scaleX(1.0163);transform-origin:1.12px 0;">Negotiation</div>
<svg class="a" style="left:766px;top:14.5px" width="14" height="13" viewBox="0 0 14 13"><path d="M7 1.8 V11.2 M2 6.5 H12" stroke="#fff" stroke-width="3.6" stroke-linecap="round"/></svg>
<div class="card" style="left:607px;top:39.5px;height:86px">
<div class="tag" style="left:0.8px;background:#c47dbf"></div>
<div class="t" style="left:6.55px;top:20.54px;font-size:10px;line-height:13.0px;color:#4d4d4d;font-weight:bold;transform:scaleX(0.9400);transform-origin:0.65px 0;">Need a new design for my website</div>
<div class="t" style="left:6.65px;top:34.33px;font-size:10px;line-height:13.0px;color:#666;">3,800.00€ - Delta PC</div>
<div class="t" style="left:6.65px;top:48.23px;font-size:10px;line-height:13.0px;color:#a8150f;font-weight:bold;">02/13/2016 : Task</div>
<svg class="a" style="left:5.70px;top:63.30px" width="14.2" height="14.2"><path d="M7.10,0.50 L9.04,4.43 L13.38,5.06 L10.24,8.12 L10.98,12.44 L7.10,10.40 L3.22,12.44 L3.96,8.12 L0.82,5.06 L5.16,4.43Z" fill="#fdd500"/></svg>
<svg class="a" style="left:22.30px;top:63.30px" width="14.2" height="14.2"><path d="M7.10,0.50 L9.04,4.43 L13.38,5.06 L10.24,8.12 L10.98,12.44 L7.10,10.40 L3.22,12.44 L3.96,8.12 L0.82,5.06 L5.16,4.43Z" fill="#fdd500"/></svg>
<svg class="a" style="left:38.90px;top:63.30px" width="14.2" height="14.2"><path d="M7.10,0.50 L9.04,4.43 L13.38,5.06 L10.24,8.12 L10.98,12.44 L7.10,10.40 L3.22,12.44 L3.96,8.12 L0.82,5.06 L5.16,4.43Z" fill="none" stroke="#a0a0a0" stroke-width="0.9" stroke-linejoin="round"/></svg>
<svg class="a" style="left:147.5px;top:47.5px" width="31" height="31" viewBox="0 0 31 31"><defs><clipPath id="cp10"><circle cx="15.5" cy="15.5" r="15.3"/></clipPath></defs><g clip-path="url(#cp10)"><g filter="url(#soft)"><rect width="31" height="31" fill="#33592a"/>
   <circle cx="5" cy="9" r="3.2" fill="#5f9040"/><circle cx="27" cy="11" r="2.6" fill="#1f3a16"/>
   <circle cx="4" cy="22" r="3" fill="#4a7a30"/><circle cx="27.5" cy="24" r="3" fill="#223f18"/><circle cx="26" cy="5" r="2.5" fill="#6a9a48"/>
   <path d="M5.5 31 C3.5 18 6 4.5 15.5 2.8 C25 4 27.5 16 26.5 31 Z" fill="#e8cf9a"/>
   <ellipse cx="15" cy="6" rx="7" ry="3.2" fill="#f4e8cc"/>
   <path d="M10 31 C11 25 20 25 21 31Z" fill="#efb898"/>
   <ellipse cx="15.5" cy="16.8" rx="6.2" ry="8.3" fill="#f3c7a9"/>
   <ellipse cx="12.6" cy="14.3" rx="1.2" ry="0.75" fill="#7a5848"/><ellipse cx="18.4" cy="14.3" rx="1.2" ry="0.75" fill="#7a5848"/>
   <path d="M11.8 19.6 Q15.5 23.6 19.2 19.6 Q15.5 20.8 11.8 19.6Z" fill="#fff" stroke="#d88a80" stroke-width=".5"/></g></g></svg>
</div>
<div class="card" style="left:607px;top:217.4px;height:86px">
<div class="tag" style="left:0.8px;background:#8fd38a"></div>
<div class="t" style="left:6.55px;top:20.54px;font-size:10px;line-height:13.0px;color:#4d4d4d;font-weight:bold;transform:scaleX(0.9400);transform-origin:0.65px 0;">Plan to buy RedHat servers</div>
<div class="t" style="left:6.50px;top:34.33px;font-size:10px;line-height:13.0px;color:#666;">25,000.00€ - Agrolait</div>
<div class="t" style="left:6.65px;top:48.23px;font-size:10px;line-height:13.0px;color:#a8150f;font-weight:bold;">02/12/2016 : Call</div>
<svg class="a" style="left:5.70px;top:63.30px" width="14.2" height="14.2"><path d="M7.10,0.50 L9.04,4.43 L13.38,5.06 L10.24,8.12 L10.98,12.44 L7.10,10.40 L3.22,12.44 L3.96,8.12 L0.82,5.06 L5.16,4.43Z" fill="#fdd500"/></svg>
<svg class="a" style="left:22.30px;top:63.30px" width="14.2" height="14.2"><path d="M7.10,0.50 L9.04,4.43 L13.38,5.06 L10.24,8.12 L10.98,12.44 L7.10,10.40 L3.22,12.44 L3.96,8.12 L0.82,5.06 L5.16,4.43Z" fill="none" stroke="#a0a0a0" stroke-width="0.9" stroke-linejoin="round"/></svg>
<svg class="a" style="left:38.90px;top:63.30px" width="14.2" height="14.2"><path d="M7.10,0.50 L9.04,4.43 L13.38,5.06 L10.24,8.12 L10.98,12.44 L7.10,10.40 L3.22,12.44 L3.96,8.12 L0.82,5.06 L5.16,4.43Z" fill="none" stroke="#a0a0a0" stroke-width="0.9" stroke-linejoin="round"/></svg>
<svg class="a" style="left:97.7px;top:67.0px" width="11" height="9" viewBox="0 0 11 9"><path d="M6.5 2.6 C9 2.6 10.8 3.9 10.8 5.4 C10.8 6.3 10.3 7 9.5 7.5 L10.2 9 L8.2 7.9 C7.7 8 7.1 8.1 6.5 8.1 C4.5 8.1 3 7.2 2.5 6Z" fill="#4a4a4a"/><ellipse cx="4.5" cy="3.3" rx="4.4" ry="3.1" fill="#4a4a4a" stroke="#fff" stroke-width=".6"/><path d="M1.8 5.6 L1 7.9 L3.8 6.3Z" fill="#4a4a4a"/></svg><div class="t" style="left:108.90px;top:64.63px;font-size:10px;line-height:13.0px;color:#4a4a4a;">4</div>
<svg class="a" style="left:147.5px;top:47.5px" width="31" height="31" viewBox="0 0 31 31"><defs><clipPath id="cp11"><circle cx="15.5" cy="15.5" r="15.3"/></clipPath></defs><g clip-path="url(#cp11)"><g filter="url(#soft)"><rect width="31" height="31" fill="#e2e2e2"/>
   <ellipse cx="15.5" cy="16" rx="7" ry="9.5" fill="#dba68a"/>
   <path d="M8 14.5 C7 5 12 2 17 2.5 C22 3 24.5 7 23 14.5 C22 8 11 8 8 14.5Z" fill="#4a281a"/>
   <path d="M10.5 13 H14 M17 13 H20.5" stroke="#5a3a2a" stroke-width=".9"/>
   <ellipse cx="12.4" cy="15" rx="1.1" ry=".6" fill="#4a3428"/><ellipse cx="18.6" cy="15" rx="1.1" ry=".6" fill="#4a3428"/>
   <path d="M13 21.5 Q15.5 22.5 18 21.5" stroke="#b87070" stroke-width=".8" fill="none"/>
   <path d="M4.5 31 C7 26 24 26 26.5 31Z" fill="#3e3848"/></g></g></svg>
</div>
<div class="a" style="left:799px;width:201.0px;top:2px;height:402px;background:#868686"></div>
<div class="t" style="left:806.20px;top:11.15px;font-size:14px;line-height:18.2px;color:#fff;">Won</div>
<svg class="a" style="left:964.3px;top:14.5px" width="14" height="13" viewBox="0 0 14 13"><path d="M7 1.8 V11.2 M2 6.5 H12" stroke="#fff" stroke-width="3.6" stroke-linecap="round"/></svg>
<div class="card" style="left:805.3px;top:39.5px;height:100px">
<div class="tag" style="left:0.8px;background:#f2887a"></div>
<div class="tag" style="left:31.8px;background:#7fdfaa"></div>
<div class="t" style="left:6.55px;top:20.54px;font-size:10px;line-height:13.0px;color:#4d4d4d;font-weight:bold;transform:scaleX(0.9400);transform-origin:0.65px 0;">Interest in your Partnership</div>
<div class="t" style="left:6.80px;top:34.33px;font-size:10px;line-height:13.0px;color:#4d4d4d;font-weight:bold;transform:scaleX(0.9400);transform-origin:0.40px 0;">Contract</div>
<div class="t" style="left:6.25px;top:48.13px;font-size:10px;line-height:13.0px;color:#666;">19,800.00€ - China Export</div>
<div class="t" style="left:6.50px;top:62.03px;font-size:10px;line-height:13.0px;color:#666;">Call</div>
<svg class="a" style="left:5.70px;top:77.10px" width="14.2" height="14.2"><path d="M7.10,0.50 L9.04,4.43 L13.38,5.06 L10.24,8.12 L10.98,12.44 L7.10,10.40 L3.22,12.44 L3.96,8.12 L0.82,5.06 L5.16,4.43Z" fill="#fdd500"/></svg>
<svg class="a" style="left:22.30px;top:77.10px" width="14.2" height="14.2"><path d="M7.10,0.50 L9.04,4.43 L13.38,5.06 L10.24,8.12 L10.98,12.44 L7.10,10.40 L3.22,12.44 L3.96,8.12 L0.82,5.06 L5.16,4.43Z" fill="#fdd500"/></svg>
<svg class="a" style="left:38.90px;top:77.10px" width="14.2" height="14.2"><path d="M7.10,0.50 L9.04,4.43 L13.38,5.06 L10.24,8.12 L10.98,12.44 L7.10,10.40 L3.22,12.44 L3.96,8.12 L0.82,5.06 L5.16,4.43Z" fill="none" stroke="#a0a0a0" stroke-width="0.9" stroke-linejoin="round"/></svg>
<svg class="a" style="left:147.5px;top:61.5px" width="31" height="31" viewBox="0 0 31 31"><defs><clipPath id="cp12"><circle cx="15.5" cy="15.5" r="15.3"/></clipPath></defs><g clip-path="url(#cp12)"><g filter="url(#soft)"><rect width="31" height="31" fill="#33592a"/>
   <circle cx="5" cy="9" r="3.2" fill="#5f9040"/><circle cx="27" cy="11" r="2.6" fill="#1f3a16"/>
   <circle cx="4" cy="22" r="3" fill="#4a7a30"/><circle cx="27.5" cy="24" r="3" fill="#223f18"/><circle cx="26" cy="5" r="2.5" fill="#6a9a48"/>
   <path d="M5.5 31 C3.5 18 6 4.5 15.5 2.8 C25 4 27.5 16 26.5 31 Z" fill="#e8cf9a"/>
   <ellipse cx="15" cy="6" rx="7" ry="3.2" fill="#f4e8cc"/>
   <path d="M10 31 C11 25 20 25 21 31Z" fill="#efb898"/>
   <ellipse cx="15.5" cy="16.8" rx="6.2" ry="8.3" fill="#f3c7a9"/>
   <ellipse cx="12.6" cy="14.3" rx="1.2" ry="0.75" fill="#7a5848"/><ellipse cx="18.4" cy="14.3" rx="1.2" ry="0.75" fill="#7a5848"/>
   <path d="M11.8 19.6 Q15.5 23.6 19.2 19.6 Q15.5 20.8 11.8 19.6Z" fill="#fff" stroke="#d88a80" stroke-width=".5"/></g></g></svg>
</div>
<div class="card" style="left:805.3px;top:142.5px;height:86px">
<div class="tag" style="left:0.8px;background:#f4d940"></div>
<div class="t" style="left:6.55px;top:20.54px;font-size:10px;line-height:13.0px;color:#4d4d4d;font-weight:bold;transform:scaleX(0.9400);transform-origin:0.65px 0;">Interest in your products</div>
<div class="t" style="left:6.50px;top:34.33px;font-size:10px;line-height:13.0px;color:#666;">2,000.00€ - Agrolait</div>
<div class="t" style="left:6.65px;top:48.23px;font-size:10px;line-height:13.0px;color:#a8150f;font-weight:bold;">02/11/2016 : Email</div>
<svg class="a" style="left:5.70px;top:63.30px" width="14.2" height="14.2"><path d="M7.10,0.50 L9.04,4.43 L13.38,5.06 L10.24,8.12 L10.98,12.44 L7.10,10.40 L3.22,12.44 L3.96,8.12 L0.82,5.06 L5.16,4.43Z" fill="#fdd500"/></svg>
<svg class="a" style="left:22.30px;top:63.30px" width="14.2" height="14.2"><path d="M7.10,0.50 L9.04,4.43 L13.38,5.06 L10.24,8.12 L10.98,12.44 L7.10,10.40 L3.22,12.44 L3.96,8.12 L0.82,5.06 L5.16,4.43Z" fill="#fdd500"/></svg>
<svg class="a" style="left:38.90px;top:63.30px" width="14.2" height="14.2"><path d="M7.10,0.50 L9.04,4.43 L13.38,5.06 L10.24,8.12 L10.98,12.44 L7.10,10.40 L3.22,12.44 L3.96,8.12 L0.82,5.06 L5.16,4.43Z" fill="none" stroke="#a0a0a0" stroke-width="0.9" stroke-linejoin="round"/></svg>
<svg class="a" style="left:147.5px;top:47.5px" width="31" height="31" viewBox="0 0 31 31"><defs><clipPath id="cp13"><circle cx="15.5" cy="15.5" r="15.3"/></clipPath></defs><g clip-path="url(#cp13)"><g filter="url(#soft)"><rect width="31" height="31" fill="#f7eecb"/>
   <ellipse cx="15.5" cy="17" rx="7" ry="9.6" fill="#ebb898"/>
   <path d="M8.3 14.5 C7.8 8 11 4 15.5 2 C20 4.5 23.2 8 22.7 14.5 C20.5 10 10.5 10 8.3 14.5Z" fill="#8e7b6a"/>
   <ellipse cx="12.4" cy="15.6" rx="1.4" ry=".8" fill="#3e4e6e"/><ellipse cx="18.6" cy="15.6" rx="1.4" ry=".8" fill="#3e4e6e"/>
   <path d="M13 22 Q15.5 23 18 22" stroke="#c88880" stroke-width=".8" fill="none"/>
   <path d="M3.5 29 C7 24.5 11 25 15.5 27.8 C20 25 24 24.5 27.5 29 L27.5 31 L3.5 31Z" fill="#175a78"/></g></g></svg>
</div>
<div class="card" style="left:805.3px;top:231.5px;height:100px">
<div class="tag" style="left:0.8px;background:#fdc686"></div>
<div class="t" style="left:7.20px;top:20.54px;font-size:10px;line-height:13.0px;color:#4d4d4d;font-weight:bold;transform:scaleX(0.9400);transform-origin:0.00px 0;">Want to subscribe to your online</div>
<div class="t" style="left:6.85px;top:34.33px;font-size:10px;line-height:13.0px;color:#4d4d4d;font-weight:bold;transform:scaleX(0.9400);transform-origin:0.35px 0;">solution</div>
<div class="t" style="left:6.50px;top:48.13px;font-size:10px;line-height:13.0px;color:#666;">2,000.00€ - Think Big Systems</div>
<div class="t" style="left:6.65px;top:62.03px;font-size:10px;line-height:13.0px;color:#666;">02/12/2016 : Email</div>
<svg class="a" style="left:5.70px;top:77.10px" width="14.2" height="14.2"><path d="M7.10,0.50 L9.04,4.43 L13.38,5.06 L10.24,8.12 L10.98,12.44 L7.10,10.40 L3.22,12.44 L3.96,8.12 L0.82,5.06 L5.16,4.43Z" fill="none" stroke="#a0a0a0" stroke-width="0.9" stroke-linejoin="round"/></svg>
<svg class="a" style="left:22.30px;top:77.10px" width="14.2" height="14.2"><path d="M7.10,0.50 L9.04,4.43 L13.38,5.06 L10.24,8.12 L10.98,12.44 L7.10,10.40 L3.22,12.44 L3.96,8.12 L0.82,5.06 L5.16,4.43Z" fill="none" stroke="#a0a0a0" stroke-width="0.9" stroke-linejoin="round"/></svg>
<svg class="a" style="left:38.90px;top:77.10px" width="14.2" height="14.2"><path d="M7.10,0.50 L9.04,4.43 L13.38,5.06 L10.24,8.12 L10.98,12.44 L7.10,10.40 L3.22,12.44 L3.96,8.12 L0.82,5.06 L5.16,4.43Z" fill="none" stroke="#a0a0a0" stroke-width="0.9" stroke-linejoin="round"/></svg>
<svg class="a" style="left:147.5px;top:61.5px" width="31" height="31" viewBox="0 0 31 31"><defs><clipPath id="cp14"><circle cx="15.5" cy="15.5" r="15.3"/></clipPath></defs><g clip-path="url(#cp14)"><g filter="url(#soft)"><rect width="31" height="31" fill="#f7eecb"/>
   <ellipse cx="15.5" cy="17" rx="7" ry="9.6" fill="#ebb898"/>
   <path d="M8.3 14.5 C7.8 8 11 4 15.5 2 C20 4.5 23.2 8 22.7 14.5 C20.5 10 10.5 10 8.3 14.5Z" fill="#8e7b6a"/>
   <ellipse cx="12.4" cy="15.6" rx="1.4" ry=".8" fill="#3e4e6e"/><ellipse cx="18.6" cy="15.6" rx="1.4" ry=".8" fill="#3e4e6e"/>
   <path d="M13 22 Q15.5 23 18 22" stroke="#c88880" stroke-width=".8" fill="none"/>
   <path d="M3.5 29 C7 24.5 11 25 15.5 27.8 C20 25 24 24.5 27.5 29 L27.5 31 L3.5 31Z" fill="#175a78"/></g></g></svg>
</div>
<div class="card drag" style="left:703.3px;top:121.4px;height:86px">
<div class="tag" style="left:0.8px;background:#f2887a"></div>
<div class="t" style="left:6.55px;top:20.54px;font-size:10px;line-height:13.0px;color:#4d4d4d;font-weight:bold;transform:scaleX(0.9400);transform-origin:0.65px 0;">Need to customize the solution</div>
<div class="t" style="left:6.80px;top:34.33px;font-size:10px;line-height:13.0px;color:#666;">4,500.00€</div>
<div class="t" style="left:6.65px;top:48.23px;font-size:10px;line-height:13.0px;color:#666;">02/11/2016 : Call</div>
<svg class="a" style="left:5.70px;top:63.30px" width="14.2" height="14.2"><path d="M7.10,0.50 L9.04,4.43 L13.38,5.06 L10.24,8.12 L10.98,12.44 L7.10,10.40 L3.22,12.44 L3.96,8.12 L0.82,5.06 L5.16,4.43Z" fill="#fdd500"/></svg>
<svg class="a" style="left:22.30px;top:63.30px" width="14.2" height="14.2"><path d="M7.10,0.50 L9.04,4.43 L13.38,5.06 L10.24,8.12 L10.98,12.44 L7.10,10.40 L3.22,12.44 L3.96,8.12 L0.82,5.06 L5.16,4.43Z" fill="#fdd500"/></svg>
<svg class="a" style="left:38.90px;top:63.30px" width="14.2" height="14.2"><path d="M7.10,0.50 L9.04,4.43 L13.38,5.06 L10.24,8.12 L10.98,12.44 L7.10,10.40 L3.22,12.44 L3.96,8.12 L0.82,5.06 L5.16,4.43Z" fill="none" stroke="#a0a0a0" stroke-width="0.9" stroke-linejoin="round"/></svg>
<svg class="a" style="left:147.5px;top:47.5px" width="31" height="31" viewBox="0 0 31 31"><defs><clipPath id="cp15"><circle cx="15.5" cy="15.5" r="15.3"/></clipPath></defs><g clip-path="url(#cp15)"><g filter="url(#soft)"><rect width="31" height="31" fill="#c2ccc8"/>
   <ellipse cx="20" cy="6" rx="9" ry="5" fill="#dde4e0"/>
   <path d="M5 28 C2.5 14 6 4 16 4 C26 4 28.5 14 26.5 28 C22 31.5 9 31.5 5 28Z" fill="#2f2535"/>
   <path d="M9 31 C10 25 19 25 21 31Z" fill="#d8ae98"/>
   <ellipse cx="14" cy="16.5" rx="6.3" ry="7.8" fill="#ddb199"/>
   <path d="M7.5 13 C9 7 17 6 21 10 C17 9 11 10 7.5 13Z" fill="#2f2535"/>
   <ellipse cx="11.5" cy="15.5" rx="1.1" ry=".7" fill="#3a2a30"/><ellipse cx="16.5" cy="15.5" rx="1.1" ry=".7" fill="#3a2a30"/>
   <path d="M11.5 20 Q14 21.8 16.5 20" stroke="#c0707a" stroke-width=".9" fill="none"/></g></g></svg>
</div>
</div>
</body></html>
